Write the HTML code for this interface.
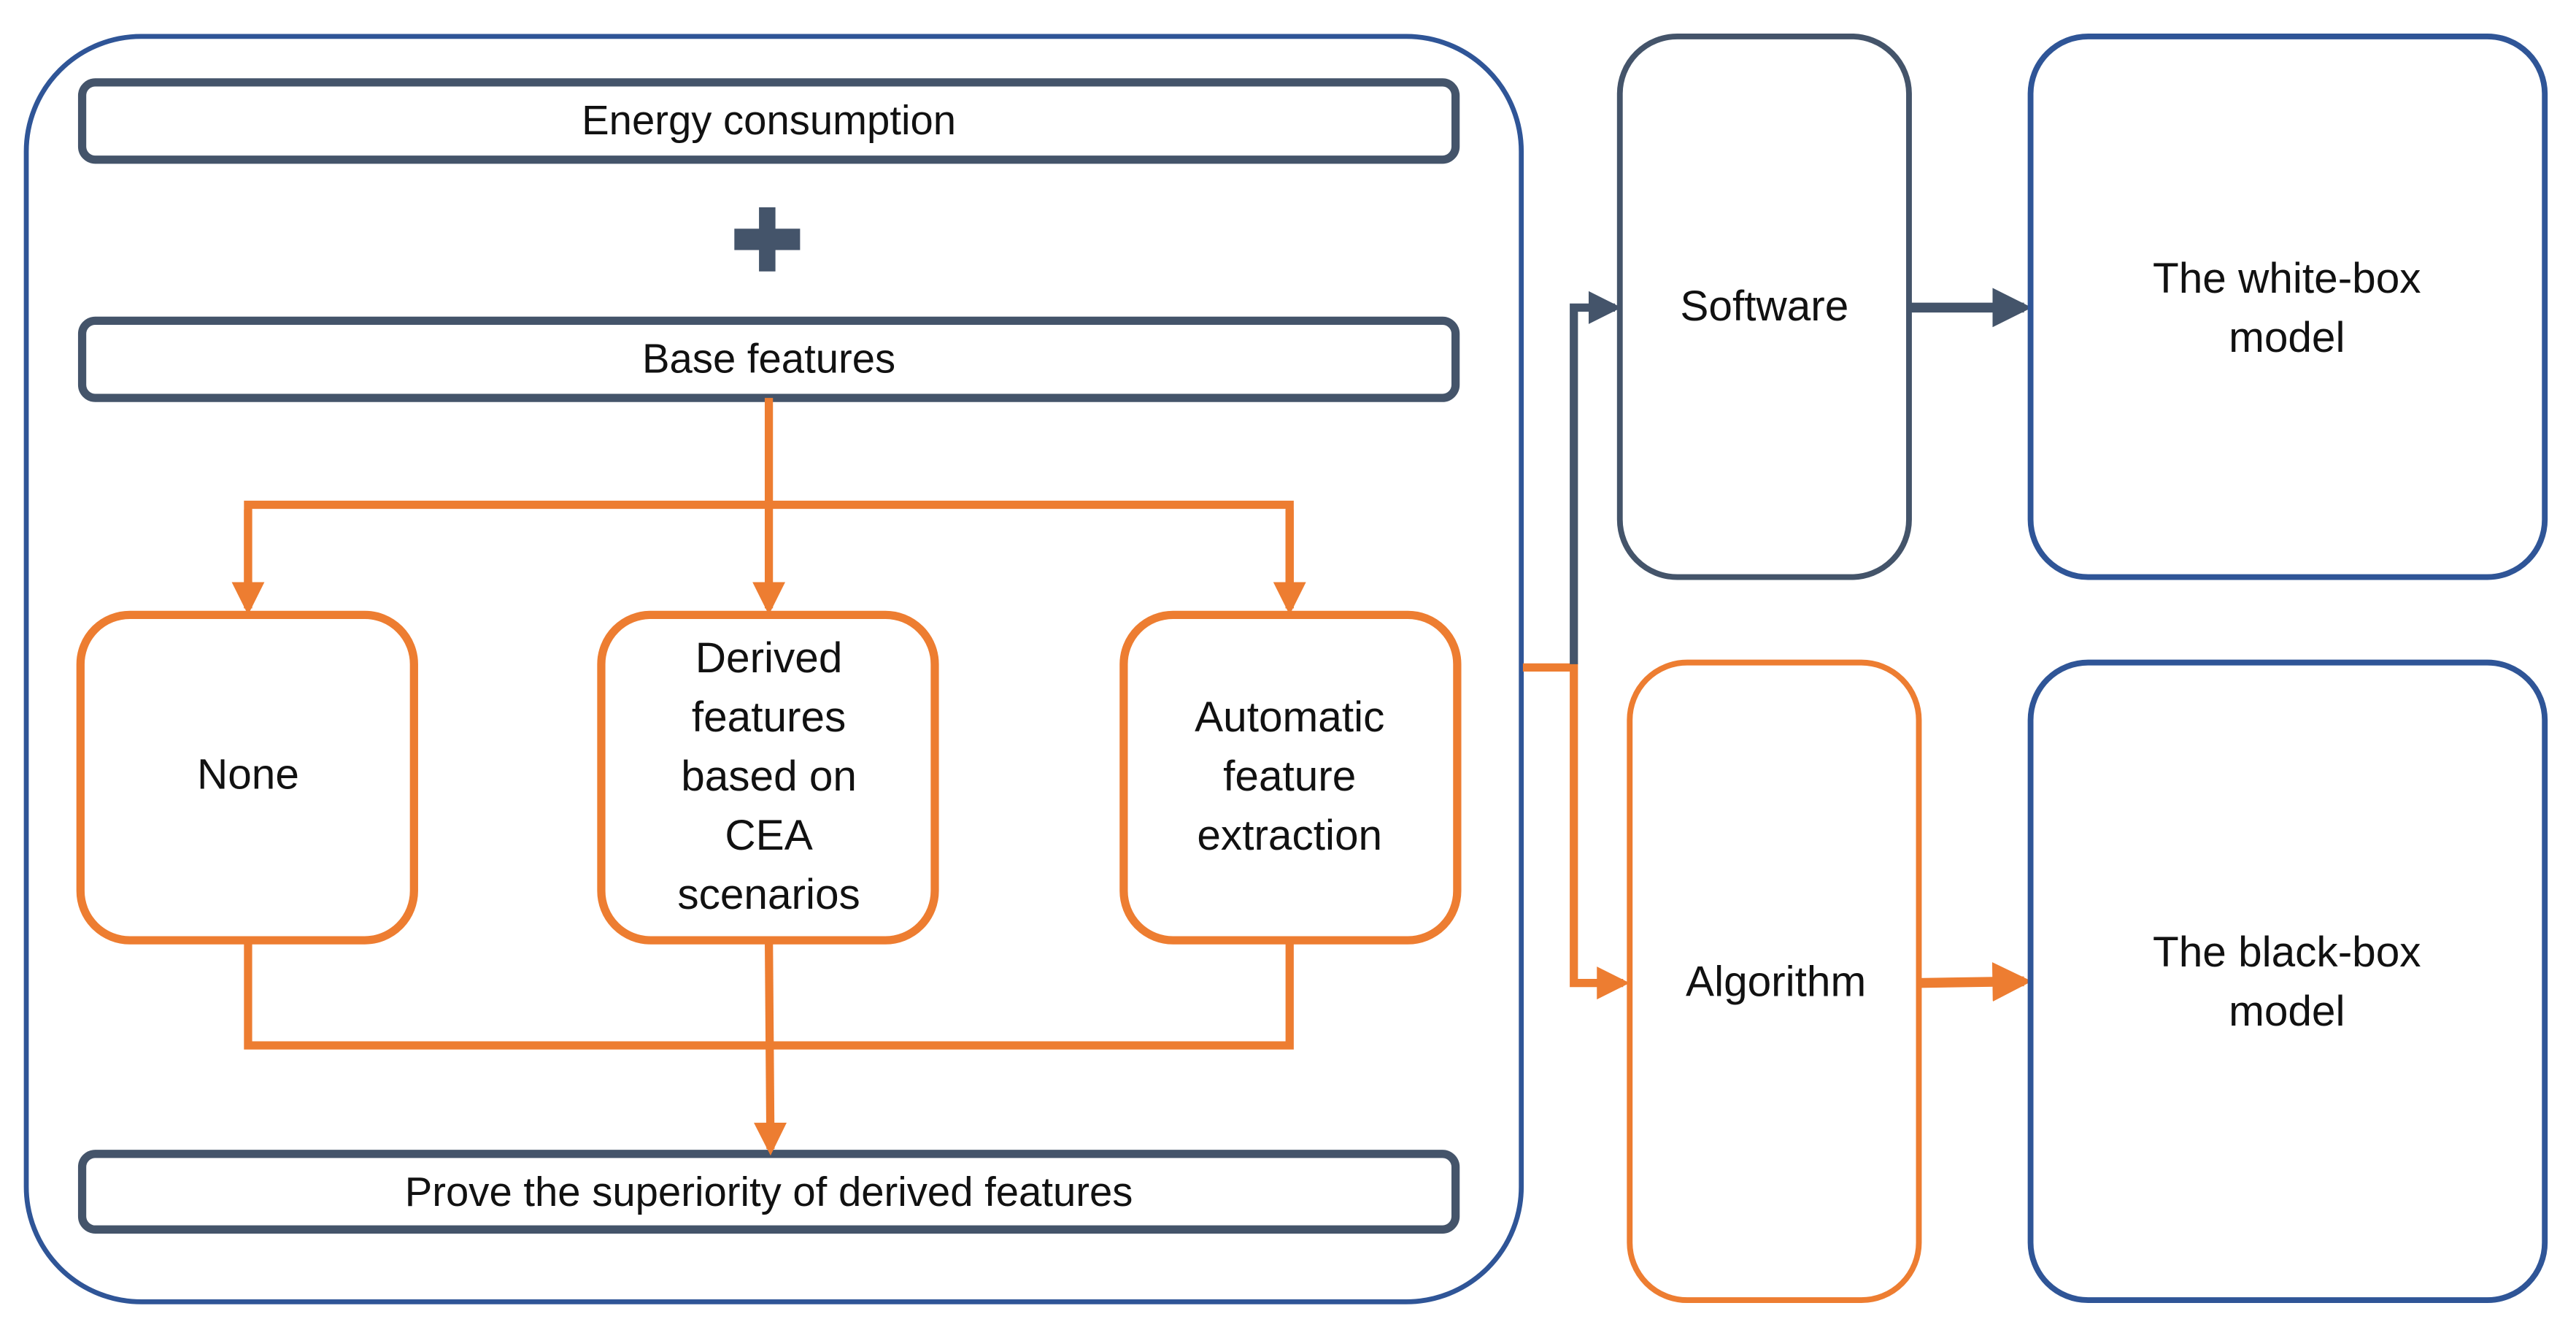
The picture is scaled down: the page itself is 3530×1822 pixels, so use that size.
<!DOCTYPE html>
<html><head><meta charset="utf-8"><style>
html,body{margin:0;padding:0;background:#fff;}
svg{display:block;}
text{font-family:"Liberation Sans",sans-serif;fill:#111;text-anchor:middle;dominant-baseline:middle;}
</style></head><body>
<svg width="3530" height="1822" viewBox="0 0 1568 809" xmlns="http://www.w3.org/2000/svg">
<defs>
<marker id="ao" markerWidth="4" markerHeight="4" refX="3.2" refY="2" orient="auto" markerUnits="strokeWidth"><path d="M0,0 L4,2 L0,4 z" fill="#ED7D31"/></marker>
<marker id="ad" markerWidth="4" markerHeight="4" refX="3.2" refY="2" orient="auto" markerUnits="strokeWidth"><path d="M0,0 L4,2 L0,4 z" fill="#44546A"/></marker>
</defs>
<rect x="16" y="22" width="910" height="770" rx="70" fill="none" stroke="#2F5597" stroke-width="3"/>
<g fill="none" stroke="#44546A" stroke-width="5">
<rect x="50" y="50" width="836" height="47" rx="8"/>
<rect x="50" y="195" width="836" height="47" rx="8"/>
<rect x="50" y="702" width="836" height="46" rx="8"/>
</g>
<rect x="462" y="126" width="10" height="39" fill="#44546A"/>
<rect x="447" y="139" width="40" height="13" fill="#44546A"/>
<text x="468" y="75" font-size="25">Energy consumption</text>
<text x="468" y="220" font-size="25">Base features</text>
<text x="468" y="727" font-size="25">Prove the superiority of derived features</text>
<g fill="none" stroke="#ED7D31" stroke-width="5">
<line x1="468" y1="242" x2="468" y2="370" marker-end="url(#ao)"/>
<polyline points="151,370 151,307 785,307 785,370" stroke-linejoin="miter"/>
<line x1="151" y1="310" x2="151" y2="370" marker-end="url(#ao)"/>
<line x1="785" y1="310" x2="785" y2="370" marker-end="url(#ao)"/>
<rect x="49" y="374" width="203" height="198" rx="30"/>
<rect x="366" y="374" width="203" height="198" rx="30"/>
<rect x="684" y="374" width="203" height="198" rx="30"/>
<polyline points="151,572 151,636 785,636 785,572"/>
<line x1="468" y1="572" x2="469" y2="699" marker-end="url(#ao)"/>
</g>
<text x="151" y="473" font-size="26">None</text>
<g font-size="26">
<text x="468" y="402">Derived</text><text x="468" y="438">features</text><text x="468" y="474">based on</text><text x="468" y="510">CEA</text><text x="468" y="546">scenarios</text>
<text x="785" y="438">Automatic</text><text x="785" y="474">feature</text><text x="785" y="510">extraction</text>
</g>
<g fill="none" stroke-width="5">
<polyline points="927,406 958,406 958,598 988,598" stroke="#ED7D31" marker-end="url(#ao)"/>
<polyline points="958,404 958,187 983,187" stroke="#44546A" marker-end="url(#ad)"/>
<line x1="1162" y1="187" x2="1232" y2="187" stroke="#44546A" stroke-width="6" marker-end="url(#ad)"/>
<line x1="1168" y1="598" x2="1232" y2="597" stroke="#ED7D31" stroke-width="6" marker-end="url(#ao)"/>
</g>
<rect x="986" y="22" width="176" height="329" rx="35" fill="none" stroke="#44546A" stroke-width="3.5"/>
<rect x="992" y="403" width="176" height="388" rx="35" fill="none" stroke="#ED7D31" stroke-width="3.5"/>
<rect x="1236" y="22" width="313" height="329" rx="35" fill="none" stroke="#2F5597" stroke-width="3.5"/>
<rect x="1236" y="403" width="313" height="388" rx="35" fill="none" stroke="#2F5597" stroke-width="3.5"/>
<g font-size="26">
<text x="1074" y="188">Software</text>
<text x="1081" y="599">Algorithm</text>
<text x="1392" y="171">The white-box</text><text x="1392" y="207">model</text>
<text x="1392" y="581">The black-box</text><text x="1392" y="617">model</text>
</g>
</svg>
</body></html>
